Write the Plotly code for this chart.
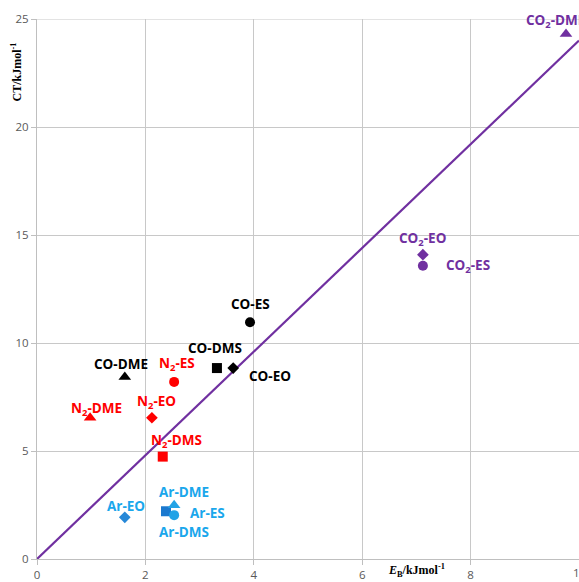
import plotly.graph_objects as go

# Binding energy E_B vs. CT energy (kJ/mol) for gas–ligand complexes
names = ["CO<sub>2</sub>-DME", "CO<sub>2</sub>-EO", "CO<sub>2</sub>-ES",
         "CO-ES", "CO-DMS", "CO-EO", "CO-DME",
         "N<sub>2</sub>-ES", "N<sub>2</sub>-EO", "N<sub>2</sub>-DME", "N<sub>2</sub>-DMS",
         "Ar-EO", "Ar-DME", "Ar-ES", "Ar-DMS"]
eb = [9.76, 7.12, 7.12, 3.93, 3.32, 3.62, 1.62, 2.53, 2.12, 0.98, 2.32, 1.62, 2.53, 2.53, 2.38]
ct = [24.31, 14.09, 13.58, 10.96, 8.84, 8.84, 8.43, 8.20, 6.54, 6.54, 4.74, 1.93, 2.49, 2.03, 2.21]

fit_x = [0, 10]
fit_slope = 2.4

# styling per point
symbols = ["triangle-up", "diamond", "circle",
           "circle", "square", "diamond", "triangle-up",
           "circle", "diamond", "triangle-up", "square",
           "diamond", "triangle-up", "circle", "square"]
PURPLE, BLACK, RED, BLUE = "#7030A0", "#000000", "#FF0000", "#1AA7EC"
colors = [PURPLE] * 3 + [BLACK] * 4 + [RED] * 4 + [BLUE] * 4
marker_colors = colors[:11] + ["#2688D8", "#22A3E6", "#22A3E6", "#1B79CF"]
sizes = {"triangle-up": 11, "diamond": 9, "circle": 10, "square": 10}
# label offsets in pixels (dx, dy, anchor)
offsets = [(-42, 13, "left"), (0, 16, "center"), (21, 0, "left"),
           (0, 18, "center"), (-2, 20, "center"), (14, -8, "left"), (-4, 13, "center"),
           (3, 18, "center"), (5, 16, "center"), (6, 9, "center"), (14, 16, "center"),
           (1, 11, "center"), (10, 13, "center"), (14, 2, "left"), (18, -21, "center")]

fig = go.Figure()
fig.add_trace(go.Scatter(
    x=fit_x, y=[fit_slope * v for v in fit_x], mode="lines",
    line=dict(color=PURPLE, width=2.2), hoverinfo="skip", showlegend=False))

# draw the Ar square first so the other Ar markers sit on top of it
order = list(range(len(eb)))
order.remove(14)
order.insert(11, 14)
for i in order:
    fig.add_trace(go.Scatter(
        x=[eb[i]], y=[ct[i]], mode="markers",
        marker=dict(symbol=symbols[i], size=sizes[symbols[i]], color=marker_colors[i],
                    line=dict(width=0)),
        showlegend=False, cliponaxis=False))

for i, name in enumerate(names):
    dx, dy, anchor = offsets[i]
    fig.add_annotation(
        x=eb[i], y=ct[i], xref="x", yref="y", text="<b>" + name + "</b>", showarrow=False,
        xshift=dx, yshift=dy, xanchor=anchor, yanchor="middle",
        font=dict(family="Open Sans, Lato, sans-serif", size=13.5, color=colors[i]))

# axis titles
fig.add_annotation(
    text="<b>CT/kJmol<sup>-1</sup></b>", xref="paper", yref="paper",
    x=-0.038, y=0.96, xanchor="center", yanchor="top", textangle=-90, showarrow=False,
    font=dict(family="Liberation Serif, serif", size=12, color="#000000"))
fig.add_annotation(
    text="<b><i>E</i><sub>B</sub>/kJmol<sup>-1</sup></b>", xref="paper", yref="paper",
    x=0.70, y=-0.022, xanchor="center", yanchor="middle", showarrow=False,
    font=dict(family="Liberation Serif, serif", size=12, color="#000000"))

tick_font = dict(family="Open Sans, sans-serif", size=11.5, color="#595959")
axis_common = dict(
    showgrid=True, gridcolor="#C8C8C8", gridwidth=1,
    showline=True, linecolor="#BFBFBF", linewidth=1,
    ticks="outside", ticklen=5, tickcolor="#BFBFBF",
    tickfont=tick_font, zeroline=False, fixedrange=True)

fig.update_xaxes(range=[0, 10], dtick=2, **axis_common)
fig.update_yaxes(range=[0, 25], dtick=5, mirror=False, **axis_common)
fig.add_shape(type="line", xref="paper", yref="y", x0=0, x1=1, y0=25, y1=25,
              line=dict(color="#C8C8C8", width=1), layer="below")
# last x tick label sits on the page edge
fig.add_annotation(
    text="10", x=10, y=0, xref="x", yref="y", yshift=-13, xanchor="center",
    yanchor="middle", showarrow=False, font=tick_font)

fig.update_layout(
    width=579, height=582,
    margin=dict(l=37, r=0, t=19, b=20),
    plot_bgcolor="white", paper_bgcolor="white",
)

fig.write_html("out.html")
